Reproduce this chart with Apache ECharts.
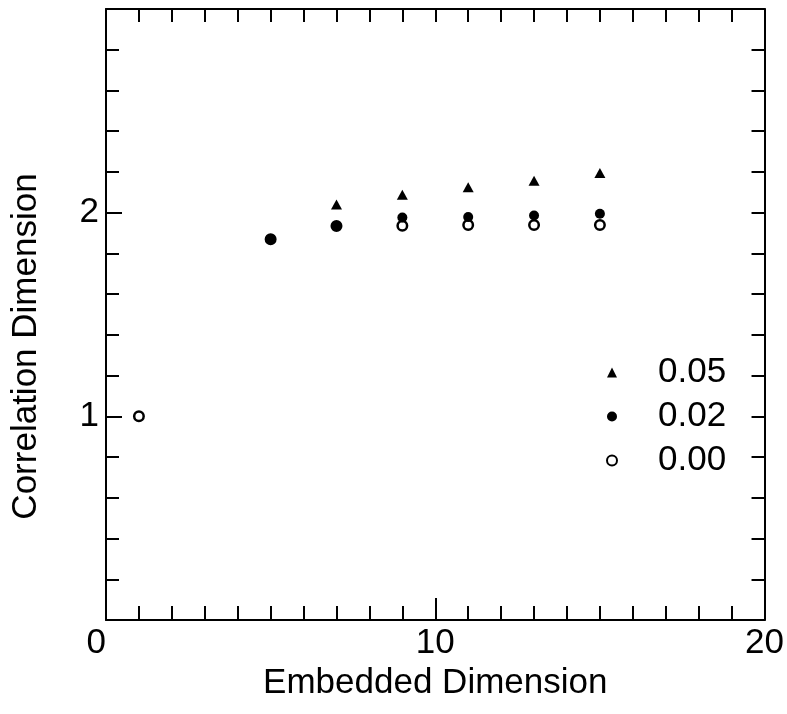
<!DOCTYPE html>
<html>
<head>
<meta charset="utf-8">
<script src="https://cdn.jsdelivr.net/npm/echarts@6/dist/echarts.min.js"></script>
<style>html,body{margin:0;padding:0;background:#fff}#c{width:787px;height:714px}</style>
</head>
<body>
<div id="c"></div>
<script>
var seriesNames = ['0.05', '0.02', '0.00'];
var xTickLabels = ['0', '10', '20'];
var yTickLabels = ['', '1', '2', ''];
var s005 = [[7, 2.04], [9, 2.088], [11, 2.125], [13, 2.157], [15, 2.195]];
var s002 = [[5, 1.869], [7, 1.934], [9, 1.976], [11, 1.979], [13, 1.986], [15, 1.995]];
var s000 = [[1, 1.0], [5, 1.869], [7, 1.934], [9, 1.936], [11, 1.939], [13, 1.94], [15, 1.939]];

var FONT = 'Liberation Sans';
var chart = echarts.init(document.getElementById('c'), null, {renderer: 'canvas'});
var lineStyle = {color: '#000', width: 2};
chart.setOption({
  animation: false,
  backgroundColor: '#fff',
  grid: {left: 106, right: 21, top: 9, bottom: 94, containLabel: false},
  legend: {
    orient: 'vertical', left: 601, top: 350,
    data: seriesNames,
    itemWidth: 10, itemHeight: 10, itemGap: 9,
    textStyle: {fontFamily: FONT, fontSize: 35, color: '#000', lineHeight: 34, padding: [0, 0, 0, 36]}
  },
  xAxis: [{
    type: 'value', min: 0, max: 20, interval: 10, position: 'bottom',
    axisLine: {show: true, onZero: false, lineStyle: lineStyle},
    axisTick: {show: true, inside: true, length: 22, lineStyle: lineStyle},
    minorTick: {show: true, splitNumber: 10, length: 14, lineStyle: lineStyle},
    splitLine: {show: false},
    axisLabel: {fontFamily: FONT, fontSize: 35, color: '#000', margin: 6,
      alignMinLabel: 'right',
      formatter: function (v) { return xTickLabels[Math.round(v / 10)]; }},
    name: 'Embedded Dimension', nameLocation: 'middle', nameGap: 40,
    nameTextStyle: {fontFamily: FONT, fontSize: 35, color: '#000'}
  }, {
    type: 'value', min: 0, max: 20, interval: 1, position: 'top',
    axisLine: {show: true, onZero: false, lineStyle: lineStyle},
    axisTick: {show: true, inside: true, length: 13, lineStyle: lineStyle},
    splitLine: {show: false}, axisLabel: {show: false}
  }],
  yAxis: [{
    type: 'value', min: 0, max: 3, interval: 1, position: 'left',
    axisLine: {show: true, onZero: false, lineStyle: lineStyle},
    axisTick: {show: true, inside: true, length: 16, lineStyle: lineStyle},
    minorTick: {show: true, splitNumber: 5, length: 13, lineStyle: lineStyle},
    splitLine: {show: false},
    axisLabel: {fontFamily: FONT, fontSize: 35, color: '#000', margin: 7,
      formatter: function (v) { return yTickLabels[Math.round(v)]; }},
    name: 'Correlation Dimension', nameLocation: 'middle', nameGap: 62,
    nameTextStyle: {fontFamily: FONT, fontSize: 35, color: '#000', padding: [0, 64, 0, 0]}
  }, {
    type: 'value', min: 0, max: 3, interval: 0.2, position: 'right',
    axisLine: {show: true, onZero: false, lineStyle: lineStyle},
    axisTick: {show: true, inside: true, length: 13, lineStyle: lineStyle},
    splitLine: {show: false}, axisLabel: {show: false}
  }],
  series: [{
    name: '0.00', type: 'scatter', data: s000, symbol: 'circle', symbolSize: 9.5,
    itemStyle: {color: '#fff', borderColor: '#000', borderWidth: 2.5, opacity: 1}, z: 2
  }, {
    name: '0.02', type: 'scatter', data: s002, symbol: 'circle', symbolSize: 10,
    itemStyle: {color: '#000', opacity: 1}, z: 3
  }, {
    name: '0.05', type: 'scatter', data: s005, symbol: 'triangle', symbolSize: [11, 10],
    itemStyle: {color: '#000', opacity: 1}, z: 4
  }]
});
</script>
</body>
</html>
